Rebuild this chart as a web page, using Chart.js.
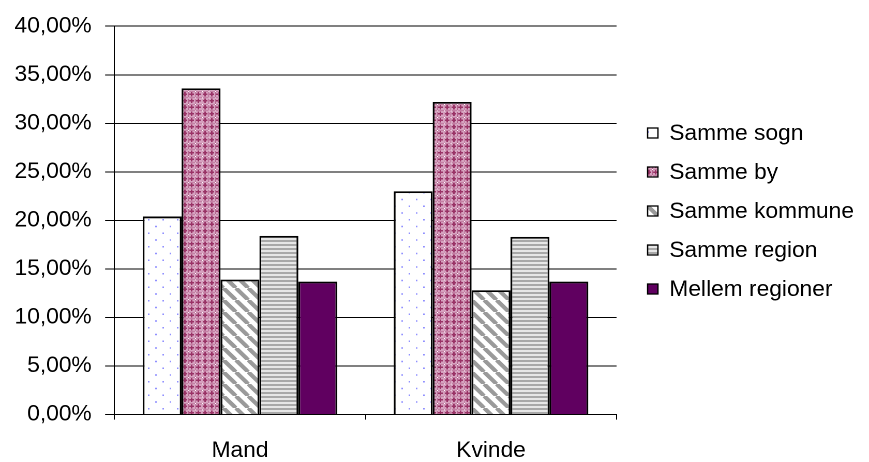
<!DOCTYPE html>
<html lang="da">
<head>
    <meta charset="UTF-8">
    <title>Flytninger</title>
    <script src="https://cdn.jsdelivr.net/npm/chart.js@4.4.0/dist/chart.umd.min.js"></script>
    <style>
        body { margin: 0; background: #fff; overflow: hidden; }
        #wrap { width: 840px; height: 462px; transform: scaleX(1.0345); transform-origin: 0 0; }
    </style>
</head>
<body>
    <div id="wrap"><canvas id="myChart" width="840" height="462"></canvas></div>
    <script>
        // data (percent)
        const categories = ['Mand', 'Kvinde'];
        const seriesNames = ['Samme sogn', 'Samme by', 'Samme kommune', 'Samme region', 'Mellem regioner'];
        const sammeSogn = [20.4, 23.0];
        const sammeBy = [33.6, 32.2];
        const sammeKommune = [13.9, 12.8];
        const sammeRegion = [18.4, 18.3];
        const mellemRegioner = [13.7, 13.7];
        const yTicks = [0, 5, 10, 15, 20, 25, 30, 35, 40];

        // small tile patterns like the old office fills
        function makePattern(w, h, draw) {
            const c = document.createElement('canvas');
            c.width = Math.round(w * 2);
            c.height = Math.round(h * 2);
            const g = c.getContext('2d');
            g.scale(2, 2);
            draw(g, w, h);
            const p = g.createPattern(c, 'repeat');
            p.setTransform(new DOMMatrix([0.5, 0, 0, 0.5, 0, 0]));
            return p;
        }

        const dots = makePattern(14, 13.5, (g, w, h) => {
            g.fillStyle = '#fff';
            g.fillRect(0, 0, w, h);
            g.fillStyle = '#9090ff';
            g.fillRect(3, 3, 1.5, 1.5);
            g.fillRect(10, 9.75, 1.5, 1.5);
        });
        const lattice = makePattern(6.5, 6.5, (g, w, h) => {
            g.fillStyle = '#d6a2bf';
            g.fillRect(0, 0, w, h);
            g.fillStyle = '#993366';
            g.fillRect(2.5, 1, 1.5, 4.5);
            g.fillRect(1, 2.5, 4.5, 1.5);
            g.fillStyle = '#b05e8a';
            g.fillRect(0, 0, w, 0.5);
            g.fillRect(0, 0, 0.5, h);
            g.fillStyle = '#fff';
            g.fillRect(0, 0, 1, 1);
        });
        const diagonal = makePattern(12, 12, (g, w, h) => {
            g.fillStyle = '#fff';
            g.fillRect(0, 0, w, h);
            g.strokeStyle = '#9a9a9a';
            g.lineWidth = 4;
            [-12, 0, 12].forEach(k => {
                g.beginPath();
                g.moveTo(k, 0);
                g.lineTo(k + w, h);
                g.stroke();
            });
        });
        const stripes = makePattern(4, 4, (g, w, h) => {
            g.fillStyle = '#e6e6e6';
            g.fillRect(0, 0, w, h);
            g.fillStyle = '#a8a8a8';
            g.fillRect(0, 0, w, 2);
        });

        const fills = [dots, lattice, diagonal, stripes, '#600060'];
        const values = [sammeSogn, sammeBy, sammeKommune, sammeRegion, mellemRegioner];

        const fontFamily = "'Liberation Sans', Arial, sans-serif";
        const fontSize = 22;

        // legend drawn by hand so it sits where the original one is
        const sideLegend = {
            id: 'sideLegend',
            afterDraw(chart) {
                const ctx = chart.ctx;
                ctx.save();
                ctx.font = fontSize + 'px ' + fontFamily;
                ctx.textBaseline = 'middle';
                chart.data.datasets.forEach((ds, i) => {
                    const y = 133 + i * 39;
                    ctx.fillStyle = ds.backgroundColor;
                    ctx.fillRect(626, y - 5, 10, 10);
                    ctx.strokeStyle = '#000';
                    ctx.lineWidth = 1.3;
                    ctx.strokeRect(626, y - 5, 10, 10);
                    ctx.fillStyle = '#000';
                    ctx.fillText(ds.label, 647, y + 1);
                });
                ctx.restore();
            }
        };

        function drawChart() {
            const ctx = document.getElementById('myChart').getContext('2d');
            return new Chart(ctx, {
                type: 'bar',
                data: {
                    labels: categories,
                    datasets: seriesNames.map((name, i) => ({
                        label: name,
                        data: values[i],
                        backgroundColor: fills[i],
                        borderColor: '#000',
                        borderWidth: 1.8,
                        categoryPercentage: 0.775,
                        barPercentage: 1
                    }))
                },
                options: {
                    responsive: false,
                    animation: false,
                    devicePixelRatio: 2,
                    layout: { padding: { left: 1, right: 244, top: 22, bottom: -20 } },
                    plugins: {
                        legend: { display: false },
                        tooltip: { enabled: false }
                    },
                    scales: {
                        x: {
                            grid: { offset: true, drawOnChartArea: false, tickLength: 5, color: '#000' },
                            border: { display: true, color: '#000', width: 1 },
                            ticks: { color: '#000', padding: 18, font: { family: fontFamily, size: fontSize } }
                        },
                        y: {
                            min: 0,
                            max: 40,
                            afterBuildTicks: axis => { axis.ticks = yTicks.map(v => ({ value: v })); },
                            grid: { color: '#000', lineWidth: 1, tickLength: 9 },
                            border: { display: true, color: '#000', width: 1 },
                            ticks: {
                                color: '#000',
                                padding: 13,
                                font: { family: fontFamily, size: fontSize },
                                callback: v => v.toFixed(2).replace('.', ',') + '%'
                            }
                        }
                    }
                },
                plugins: [sideLegend]
            });
        }

        // make sure the font is ready before Chart.js measures the labels
        document.fonts.load(fontSize + 'px "Liberation Sans"')
            .catch(err => console.error(err))
            .then(() => drawChart());
    </script>
</body>
</html>
